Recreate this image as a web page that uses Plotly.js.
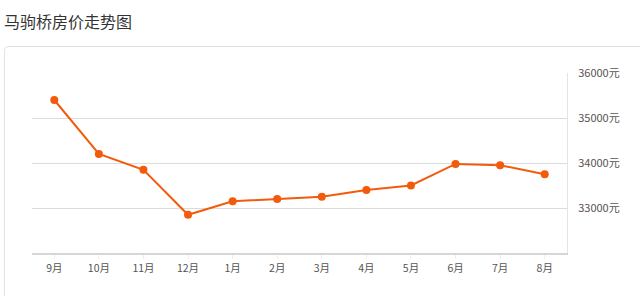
<!DOCTYPE html>
<html><head><meta charset="utf-8">
<script src="https://cdn.plot.ly/plotly-3.0.1.min.js"></script>
<style>
html,body{margin:0;padding:0;background:#fff;width:640px;height:296px;overflow:hidden;}
#title{position:absolute;left:4px;top:9px;font-family:"Noto Sans CJK SC",sans-serif;font-size:16px;color:#333;}
#card{position:absolute;left:4px;top:46px;width:700px;height:300px;border:1px solid #e2e2e2;border-radius:4px;box-sizing:border-box;}
#chart{position:absolute;left:0;top:0;width:640px;height:296px;}
</style></head>
<body>
<div id="title">马驹桥房价走势图</div>
<div id="card"></div>
<div id="chart"></div>
<script>
const months = ["9月","10月","11月","12月","1月","2月","3月","4月","5月","6月","7月","8月"];
const prices = [35400,34200,33850,32850,33150,33200,33250,33400,33500,33980,33950,33750];
const yTicks = [33000,34000,35000,36000];
const yTickText = ["33000元","34000元","35000元","36000元"];

Plotly.newPlot('chart',[{
  x: months, y: prices, type:'scatter', mode:'lines+markers',
  line:{color:'#f35b0c',width:2},
  marker:{color:'#f35b0c',size:8},
  hoverinfo:'skip'
}],{
  width:640,height:296,
  margin:{l:32,r:73,t:73,b:43},
  paper_bgcolor:'rgba(0,0,0,0)',plot_bgcolor:'rgba(0,0,0,0)',
  showlegend:false,
  font:{family:'"Noto Sans CJK SC", sans-serif',size:11,color:'#555'},
  xaxis:{type:'category',range:[-0.5,11.5],showgrid:false,zeroline:false,
    showline:true,linecolor:'#d6d6d6',linewidth:2,
    ticks:'outside',ticklen:4,tickcolor:'#eee',tickfont:{size:10.5,color:'#555'},fixedrange:true},
  yaxis:{side:'right',range:[32000,36000],tickvals:yTicks,ticktext:yTickText,
    showgrid:true,gridcolor:'#dcdcdc',gridwidth:1,zeroline:false,
    showline:true,linecolor:'#e4e4e4',linewidth:1,ticks:'',
    ticklabelstandoff:8,tickfont:{size:11,color:'#555'},fixedrange:true}
},{staticPlot:true});
</script>
</body></html>
